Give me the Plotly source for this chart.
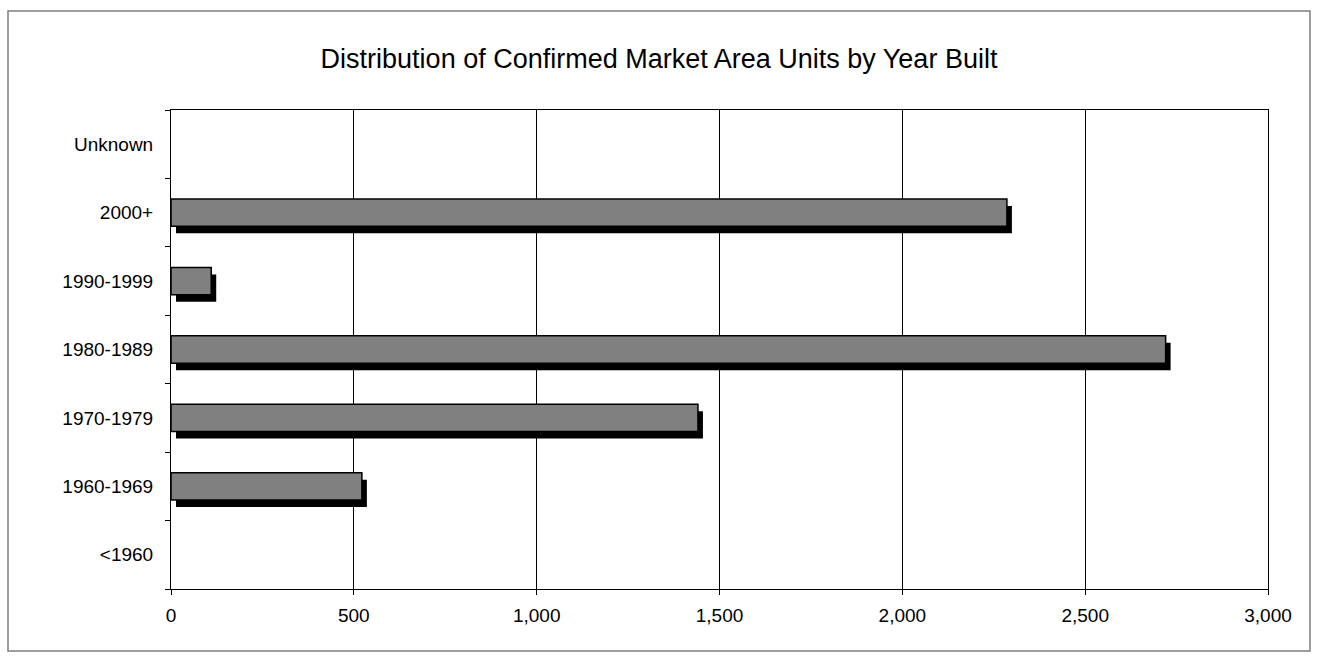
import plotly.graph_objects as go

# Year-built buckets, bottom to top
categories = ["<1960", "1960-1969", "1970-1979", "1980-1989", "1990-1999", "2000+", "Unknown"]
units = [0, 522, 1441, 2720, 110, 2286, 0]
x_ticks = [0, 500, 1000, 1500, 2000, 2500, 3000]
x_tick_labels = ["0", "500", "1,000", "1,500", "2,000", "2,500", "3,000"]

W, H = 1318, 660
ML, MR, MT, MB = 171, 50, 110, 71
plot_w = W - ML - MR
plot_h = H - MT - MB

BAR_W = 0.4
shadow_dx = 5 * 3000 / plot_w          # 5px shift to the right, in data units
shadow_dy = 7 * len(categories) / plot_h  # 7px shift downward, in category units

font = "Liberation Sans, Arial, sans-serif"

# empty buckets get no outline so nothing is drawn for them
outline_w = [1.5 if v > 0 else 0 for v in units]

fig = go.Figure()

# drop shadow behind each bar
fig.add_trace(go.Bar(
    y=categories, x=units, base=[shadow_dx] * len(units), orientation="h",
    width=BAR_W, offset=-BAR_W / 2 - shadow_dy,
    marker=dict(color="#000000", line=dict(width=0)),
    hoverinfo="skip", showlegend=False,
))
# main bars
fig.add_trace(go.Bar(
    y=categories, x=units, orientation="h",
    width=BAR_W, offset=-BAR_W / 2,
    marker=dict(color="#808080", line=dict(color="#000000", width=outline_w)),
    showlegend=False,
))

fig.update_layout(
    width=W, height=H,
    margin=dict(l=ML, r=MR, t=MT, b=MB),
    paper_bgcolor="#ffffff", plot_bgcolor="#ffffff",
    barmode="overlay",
    title=dict(
        text="Distribution of Confirmed Market Area Units by Year Built",
        x=0.5, xanchor="center", y=1 - 59 / H, yanchor="middle",
        font=dict(family=font, size=27, color="#000000"),
    ),
    font=dict(family=font, size=19, color="#000000"),
    xaxis=dict(
        range=[0, 3000], tickvals=x_ticks, ticktext=x_tick_labels,
        showgrid=True, gridcolor="#000000", gridwidth=1,
        showline=True, linecolor="#000000", linewidth=1, mirror=True,
        ticks="outside", ticklen=5, tickcolor="#000000",
        ticklabelstandoff=4,
        zeroline=False, fixedrange=True,
    ),
    yaxis=dict(
        categoryorder="array", categoryarray=categories,
        range=[-0.5, len(categories) - 0.5],
        showgrid=False,
        showline=True, linecolor="#000000", linewidth=1, mirror=True,
        ticks="outside", ticklen=5, tickcolor="#000000", tickson="boundaries",
        ticklabelstandoff=13,
        zeroline=False, fixedrange=True,
    ),
    shapes=[dict(
        type="rect", xref="paper", yref="paper",
        x0=(8 - ML) / plot_w, x1=(1310 - ML) / plot_w,
        y0=(H - MB - 651) / plot_h, y1=(H - MB - 11) / plot_h,
        line=dict(color="#7f7f7f", width=1.5), fillcolor="rgba(0,0,0,0)",
        layer="below",
    )],
)

fig.write_html("out.html")
